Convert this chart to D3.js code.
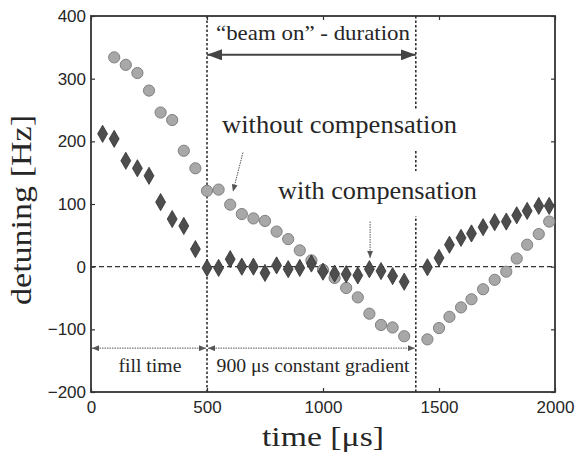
<!DOCTYPE html>
<html><head><meta charset="utf-8">
<script src="https://cdn.jsdelivr.net/npm/d3@7"></script>
<style>body{margin:0;background:#fff;} svg{display:block;}</style>
</head><body><svg id="c" width="578" height="453"></svg>
<script>
// without compensation (grey circles)
const circleTime = [100,150,200,250,300,350,400,450,500,550,600,650,700,750,800,850,900,950,1000,1050,1100,1150,1200,1250,1300,1350,1450,1500,1545,1595,1640,1690,1740,1790,1835,1880,1930,1975];
const circleDetuning = [334,322,309,281,246,234,185,157,121,123,99,84,77,73,56,44,26,10,-5,-18,-34,-49,-75,-93,-97,-111,-116,-98,-80,-65,-52,-36,-21,-8,13,35,52,72];
// with compensation (dark diamonds)
const diamondTime = [50,100,150,200,250,300,350,400,450,500,550,600,650,700,750,800,850,900,950,1000,1050,1100,1150,1200,1250,1300,1350,1450,1500,1545,1595,1640,1690,1740,1790,1835,1880,1930,1975];
const diamondDetuning = [212,204,169,157,145,103,76,65,28,-2,-2,12,0,0,-10,2,-4,-2,5,-8,-11,-12,-14,-4,-7,-15,-24,-1,14,35,46,53,63,71,72,82,89,97,97];
const xTicks = [0,500,1000,1500,2000];
const yTicks = [-200,-100,0,100,200,300,400];
const beamOn = 500, beamOff = 1400;

const svg = d3.select("#c");
const x = d3.scaleLinear().domain([0,2000]).range([91,555]);
const y = d3.scaleLinear().domain([-200,400]).range([392,16]);
const serif = "'Liberation Serif', 'Times New Roman', serif";
const sans = "'Liberation Sans', Arial, sans-serif";
const ink = "#262626";

// arrow markers
const defs = svg.append("defs");
function marker(id, len, hw, color){
  defs.append("marker").attr("id", id).attr("markerUnits","userSpaceOnUse")
    .attr("viewBox", `0 ${-hw} ${len} ${2*hw}`).attr("refX", len).attr("refY", 0)
    .attr("markerWidth", len).attr("markerHeight", 2*hw).attr("orient","auto-start-reverse")
    .append("path").attr("d", `M0,${-hw}L${len},0L0,${hw}Z`).attr("fill", color);
}
marker("big", 15, 5.5, "#444");
marker("small", 7, 3, "#555");

// reference lines
svg.append("line").attr("x1", x(0)).attr("x2", x(2000)).attr("y1", y(0)).attr("y2", y(0))
  .attr("stroke", "#333").attr("stroke-width", 1.4).attr("stroke-dasharray", "5,3");
svg.selectAll("line.vref").data([beamOn, beamOff]).enter().append("line").attr("class","vref")
  .attr("x1", d => x(d)).attr("x2", d => x(d)).attr("y1", y(400)).attr("y2", y(-200))
  .attr("stroke", "#333").attr("stroke-width", 1.6).attr("stroke-dasharray", "2.5,2");

// axes
const fmt = d => d < 0 ? "\u2212" + Math.abs(d) : String(d);
const gx = svg.append("g").attr("transform", `translate(0,${y(-200)})`)
  .call(d3.axisBottom(x).tickValues(xTicks).tickSize(-4).tickPadding(9).tickFormat(fmt));
const gxt = svg.append("g").attr("transform", `translate(0,${y(400)})`)
  .call(d3.axisTop(x).tickValues(xTicks).tickSize(-4).tickFormat(""));
const gy = svg.append("g").attr("transform", `translate(${x(0)},0)`)
  .call(d3.axisLeft(y).tickValues(yTicks).tickSize(-4).tickPadding(5).tickFormat(fmt));
const gyr = svg.append("g").attr("transform", `translate(${x(2000)},0)`)
  .call(d3.axisRight(y).tickValues(yTicks).tickSize(-4).tickFormat(""));
[gx,gxt,gy,gyr].forEach(g => {
  g.select(".domain").remove();
  g.selectAll(".tick line").attr("stroke", "#333").attr("stroke-width", 1.2);
  g.selectAll(".tick text").attr("fill", ink).style("font-family", sans).style("font-size", "17px");
});
svg.append("rect").attr("x", x(0)).attr("y", y(400)).attr("width", x(2000)-x(0)).attr("height", y(-200)-y(400))
  .attr("fill", "none").attr("stroke", "#333").attr("stroke-width", 1.8);

// annotation arrows
svg.append("line").attr("x1", x(beamOn)).attr("x2", x(beamOff)).attr("y1", y(338)).attr("y2", y(338))
  .attr("stroke", "#444").attr("stroke-width", 2).attr("marker-start","url(#big)").attr("marker-end","url(#big)");
[[0, beamOn],[beamOn, beamOff]].forEach(([a,b]) => {
  svg.append("line").attr("x1", x(a)+1).attr("x2", x(b)-1).attr("y1", y(-130)).attr("y2", y(-130))
    .attr("stroke", "#555").attr("stroke-width", 1).attr("stroke-dasharray","1.5,1")
    .attr("marker-start","url(#small)").attr("marker-end","url(#small)");
});

// labels with white background (hide the beam-off line behind text)
function label(txt, xx, yy, size, len, anchor, bg){
  const t = svg.append("text").attr("x", xx).attr("y", yy).text(txt)
    .attr("text-anchor", anchor || "start").attr("fill", ink)
    .style("font-family", serif).style("font-size", size + "px");
  if (len) t.attr("textLength", len).attr("lengthAdjust", "spacingAndGlyphs");
  if (bg) {
    const b = t.node().getBBox();
    svg.insert("rect", () => t.node()).attr("x", b.x - 2).attr("y", b.y - bg[0])
      .attr("width", b.width + 4).attr("height", b.height + bg[0] + bg[1]).attr("fill", "#fff");
  }
  return t;
}
label("\u201cbeam on\u201d - duration", 216, 40, 22, 194);
label("without compensation", 222, 133, 25, 235, "start", [2, 12]);
label("with compensation", 278, 199, 25, 199, "start", [6, 12]);
label("fill time", x(254), 372, 18, 63, "middle");
label("900 \u03bcs constant gradient", x(957), 372, 18, 193, "middle");

// pointer arrows
svg.append("line").attr("x1", x(655)).attr("y1", y(182)).attr("x2", x(612)).attr("y2", y(120))
  .attr("stroke", "#555").attr("stroke-width", 1).attr("stroke-dasharray","1.5,1").attr("marker-end","url(#small)");
svg.append("line").attr("x1", x(1203)).attr("y1", y(72)).attr("x2", x(1203)).attr("y2", y(14))
  .attr("stroke", "#555").attr("stroke-width", 1).attr("stroke-dasharray","1.5,1").attr("marker-end","url(#small)");

// data points
svg.append("g").selectAll("circle").data(circleTime).enter().append("circle")
  .attr("cx", d => x(d)).attr("cy", (d,i) => y(circleDetuning[i])).attr("r", 5.6)
  .attr("fill", "#a8a8a8").attr("stroke", "#808080").attr("stroke-width", 1);
const diamond = d3.symbol(d3.symbolDiamond, 85);
svg.append("g").selectAll("path").data(diamondTime).enter().append("path")
  .attr("d", diamond).attr("transform", (d,i) => `translate(${x(d)},${y(diamondDetuning[i])})`)
  .attr("fill", "#4d4d4d").attr("stroke", "#333").attr("stroke-width", 0.8);

// axis titles
svg.append("text").attr("x", 323).attr("y", 446).attr("text-anchor","middle").text("time [\u03bcs]")
  .attr("fill", ink).style("font-family", serif).style("font-size", "28px")
  .attr("textLength", 122).attr("lengthAdjust","spacingAndGlyphs");
svg.append("text").attr("transform", "translate(31,210) rotate(-90)").attr("text-anchor","middle")
  .text("detuning [Hz]").attr("fill", ink).style("font-family", serif).style("font-size", "30px")
  .attr("textLength", 190).attr("lengthAdjust","spacingAndGlyphs");
</script></body></html>
